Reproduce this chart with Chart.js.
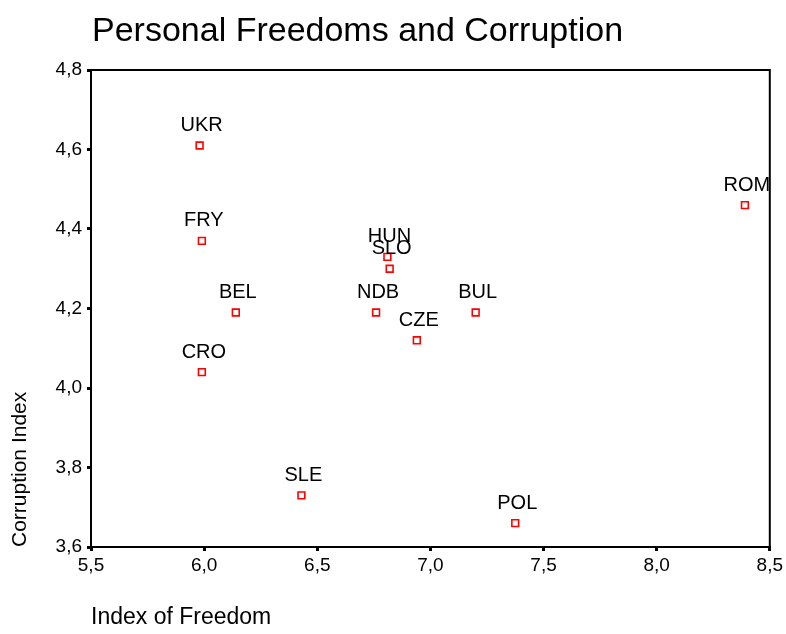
<!DOCTYPE html>
<html>
<head>
<meta charset="utf-8">
<script src="https://cdn.jsdelivr.net/npm/chart.js@4"></script>
<style>
  body { margin: 0; background: #fff; }
  canvas { display: block; }
</style>
</head>
<body>
<canvas id="chart" width="786" height="634"></canvas>
<script>
const countries = ['UKR', 'FRY', 'BEL', 'CRO', 'SLE', 'HUN', 'SLO', 'NDB', 'BUL', 'CZE', 'ROM', 'POL'];
const freedom = [5.98, 5.99, 6.14, 5.99, 6.43, 6.81, 6.82, 6.76, 7.20, 6.94, 8.39, 7.375];
const corruption = [4.61, 4.37, 4.19, 4.04, 3.73, 4.33, 4.30, 4.19, 4.19, 4.12, 4.46, 3.66];

const xTickValues = [5.5, 6.0, 6.5, 7.0, 7.5, 8.0, 8.5];
const xTickLabels = ['5,5', '6,0', '6,5', '7,0', '7,5', '8,0', '8,5'];
const yTickValues = [3.6, 3.8, 4.0, 4.2, 4.4, 4.6, 4.8];
const yTickLabels = ['3,6', '3,8', '4,0', '4,2', '4,4', '4,6', '4,8'];

const FONT = "'Liberation Sans', Arial, sans-serif";

// title, frame and point labels
const decorations = {
  id: 'decorations',
  afterDraw(chart) {
    const { ctx, chartArea } = chart;
    ctx.save();
    ctx.strokeStyle = '#000';
    ctx.lineWidth = 2;
    ctx.strokeRect(chartArea.left, chartArea.top, chartArea.right - chartArea.left, chartArea.bottom - chartArea.top);

    ctx.fillStyle = '#000';
    ctx.font = '34px ' + FONT;
    ctx.textAlign = 'left';
    ctx.textBaseline = 'alphabetic';
    ctx.fillText('Personal Freedoms and Corruption', chartArea.left + 1, 41);

    ctx.font = '20px ' + FONT;
    ctx.textAlign = 'center';
    chart.getDatasetMeta(0).data.forEach((pt, i) => {
      ctx.fillText(countries[i], pt.x + 2, pt.y - 14.5);
    });
    ctx.restore();
  }
};

new Chart(document.getElementById('chart'), {
  type: 'scatter',
  data: {
    datasets: [{
      data: freedom.map((x, i) => ({ x, y: corruption[i] })),
      pointStyle: 'rect',
      pointRadius: 4.8,
      pointHoverRadius: 4.8,
      borderColor: '#ff0000',
      backgroundColor: '#ffffff',
      borderWidth: 1.6,
    }]
  },
  options: {
    responsive: false,
    animation: false,
    layout: { padding: { top: 70, right: 15, left: 0, bottom: 0 } },
    plugins: {
      legend: { display: false },
      tooltip: { enabled: false }
    },
    scales: {
      x: {
        type: 'linear',
        min: 5.5,
        max: 8.5,
        afterFit(scale) { scale.height = 87; },
        afterBuildTicks(scale) { scale.ticks = xTickValues.map(v => ({ value: v })); },
        ticks: {
          color: '#000',
          font: { family: FONT, size: 19 },
          padding: 3,
          maxRotation: 0,
          callback: (v, i) => xTickLabels[i]
        },
        grid: { drawOnChartArea: false, drawTicks: true, tickLength: 4, lineWidth: 3, color: '#000' },
        border: { display: true, color: '#000', width: 2 },
        title: {
          display: true,
          text: 'Index of Freedom',
          align: 'start',
          color: '#000',
          font: { family: FONT, size: 23 },
          padding: { top: 0, bottom: 3 }
        }
      },
      y: {
        type: 'linear',
        min: 3.6,
        max: 4.8,
        afterFit(scale) { scale.width = 91; },
        afterBuildTicks(scale) { scale.ticks = yTickValues.map(v => ({ value: v })); },
        ticks: {
          color: '#000',
          font: { family: FONT, size: 19 },
          padding: 5,
          callback: (v, i) => yTickLabels[i]
        },
        grid: { drawOnChartArea: false, drawTicks: true, tickLength: 4, lineWidth: 3, color: '#000' },
        border: { display: true, color: '#000', width: 2 },
        title: {
          display: true,
          text: 'Corruption Index',
          align: 'start',
          color: '#000',
          font: { family: FONT, size: 21 },
          padding: { top: 8, bottom: 0 }
        }
      }
    }
  },
  plugins: [decorations]
});
</script>
</body>
</html>
